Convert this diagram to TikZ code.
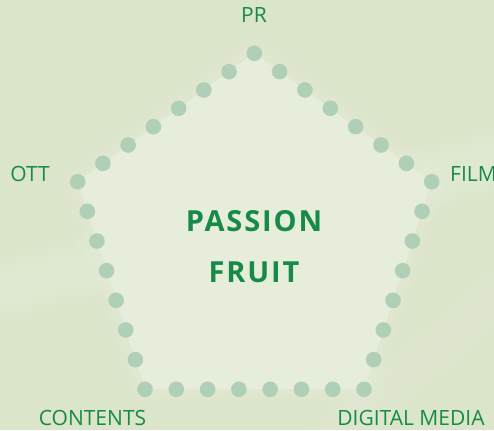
\documentclass[tikz,border=0pt]{standalone}
\usepackage{fontspec}
\setmainfont{Open Sans}
\newfontfamily\titlefont[LetterSpace=6.5]{Open Sans}
\usetikzlibrary{calc}
\definecolor{bgcol}{RGB}{219,229,201}
\definecolor{glowcol}{RGB}{231,237,219}
\definecolor{dotcol}{RGB}{175,207,182}
\definecolor{txtcol}{RGB}{24,138,72}
\tikzset{
  dotnode/.style={circle,fill=dotcol,minimum size=15.6pt,inner sep=0pt},
  lbl/.style={text=txtcol,inner sep=0pt,font=\fontsize{21}{22}\selectfont},
  title/.style={text=txtcol,inner sep=0pt,font=\titlefont\bfseries\fontsize{29}{30}\selectfont}
}
\begin{document}
\begin{tikzpicture}[x=1pt,y=-1pt]
\useasboundingbox (0,0) rectangle (494,430);
% background
\fill[bgcol] (0,0) rectangle (494,430);
\foreach \k in {0,6,12,18}{
  \fill[white,opacity=0.05] (0,255+\k) -- (494,125+\k) -- (494,195-\k) -- (0,325-\k) -- cycle;
  \fill[white,opacity=0.04] (305+\k,430) -- (494,265+\k) -- (494,330-\k) -- (380-\k,430) -- cycle;
}
% vertices
\coordinate (vPR) at (254.3,53.3);
\coordinate (vFILM) at (431.7,181.7);
\coordinate (vDM) at (364,389.3);
\coordinate (vCON) at (145,389.3);
\coordinate (vOTT) at (77.7,181.7);
% glow
\foreach \w/\o in {50/0.08,40/0.10,30/0.12,20/0.16,10/0.22}{
  \draw[glowcol,opacity=\o,line width=\w pt,line join=round] (vPR) -- (vFILM) -- (vDM) -- (vCON) -- (vOTT) -- cycle;
}
\fill[glowcol] (vPR) -- (vFILM) -- (vDM) -- (vCON) -- (vOTT) -- cycle;
% dots
\foreach \a/\b/\n in {vPR/vFILM/e1,vFILM/vDM/e2,vDM/vCON/e3,vCON/vOTT/e4,vOTT/vPR/e5}{
  \foreach \i in {0,...,6}{
    \node[dotnode] (d-\n-\i) at ($(\a)!\i/7!(\b)$) {};
  }
}
% labels
\node[lbl] (lPR) at (254,15.5) {PR};
\node[lbl,anchor=west] (lFILM) at (450,174) {FILM};
\node[lbl] (lOTT) at (30,174) {OTT};
\node[lbl] (lCON) at (92.5,418) {CONTENTS};
\node[lbl] (lDM) at (411,418) {DIGITAL MEDIA};
\node[title] (tP) at (254,221) {PASSION};
\node[title] (tF) at (254,272.5) {FRUIT};
\end{tikzpicture}
\end{document}
